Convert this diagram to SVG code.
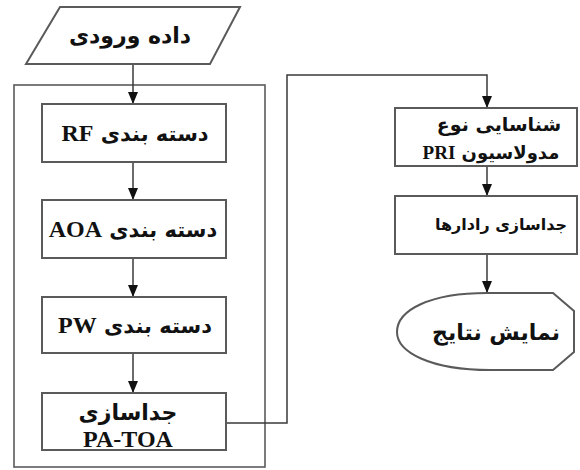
<svg xmlns="http://www.w3.org/2000/svg" width="580" height="470" viewBox="0 0 580 470">
<style>
.box{fill:#fff;stroke:#5a5a5a;stroke-width:2}
.frame{fill:none;stroke:#5a5a5a;stroke-width:1.6}
.line{fill:none;stroke:#3a3a3a;stroke-width:1.5}
.fa{font-family:"DejaVu Sans",sans-serif;font-weight:bold;fill:#111}
.rtl{direction:rtl;unicode-bidi:embed}
.en{font-family:"Liberation Serif",serif;font-weight:bold}
</style>
<defs>
<marker id="arr" markerWidth="12" markerHeight="10" refX="12" refY="5" orient="auto" markerUnits="userSpaceOnUse">
<path d="M0,0 L12,5 L0,10 Z" fill="#111"/>
</marker>
</defs>
<rect class="frame" x="14" y="85" width="251" height="382"/>
<g id="connectors">
<line class="line" x1="133" y1="64" x2="133" y2="104" marker-end="url(#arr)"/>
<line class="line" x1="133" y1="162" x2="133" y2="200" marker-end="url(#arr)"/>
<line class="line" x1="133" y1="258" x2="133" y2="297" marker-end="url(#arr)"/>
<line class="line" x1="133" y1="353" x2="133" y2="393" marker-end="url(#arr)"/>
<polyline class="line" points="226,423 287,423 287,75 487,75 487,108" marker-end="url(#arr)"/>
<line class="line" x1="487" y1="166" x2="487" y2="196" marker-end="url(#arr)"/>
<line class="line" x1="487" y1="254" x2="487" y2="293" marker-end="url(#arr)"/>
</g>
<g id="input">
<polygon class="box" points="60,7 240,7 210,64 26,64" stroke-width="1.5"/>
<text class="fa" x="130" y="43" font-size="22" text-anchor="middle">داده ورودی</text>
</g>
<g id="rf">
<rect class="box" x="42" y="104" width="184" height="58"/>
<text class="fa rtl" x="135" y="141" font-size="21" text-anchor="middle">دسته بندی <tspan class="en" font-size="24">RF</tspan></text>
</g>
<g id="aoa">
<rect class="box" x="42" y="200" width="184" height="58"/>
<text class="fa rtl" x="133" y="237" font-size="21" text-anchor="middle">دسته بندی <tspan class="en" font-size="24">AOA</tspan></text>
</g>
<g id="pw">
<rect class="box" x="42" y="297" width="184" height="56"/>
<text class="fa rtl" x="135" y="333" font-size="21" text-anchor="middle">دسته بندی <tspan class="en" font-size="24">PW</tspan></text>
</g>
<g id="patoa">
<rect class="box" x="42" y="393" width="184" height="57"/>
<text class="fa" x="128" y="420" font-size="22" text-anchor="middle">جداسازی</text>
<text class="en" x="128" y="447" font-size="24" text-anchor="middle" fill="#111">PA-TOA</text>
</g>
<g id="pri">
<rect class="box" x="395" y="108" width="182" height="58"/>
<text class="fa" x="499" y="131" font-size="19" text-anchor="middle">شناسایی نوع</text>
<text class="fa rtl" x="491" y="159" font-size="18" text-anchor="middle">مدولاسیون <tspan class="en" font-size="19">PRI</tspan></text>
</g>
<g id="separate">
<rect class="box" x="395" y="196" width="182" height="58"/>
<text class="fa" x="501" y="230" font-size="16" text-anchor="middle">جداسازی رادارها</text>
</g>
<g id="display">
<path class="box" stroke-width="1.5" d="M487,293 L553,293 L574,311 L574,352 L553,370 L490,370 C430,370 397,352 397,332 C397,310 430,293 487,293 Z"/>
<text class="fa" x="496" y="340" font-size="22" text-anchor="middle">نمایش  نتایج</text>
</g>
</svg>
